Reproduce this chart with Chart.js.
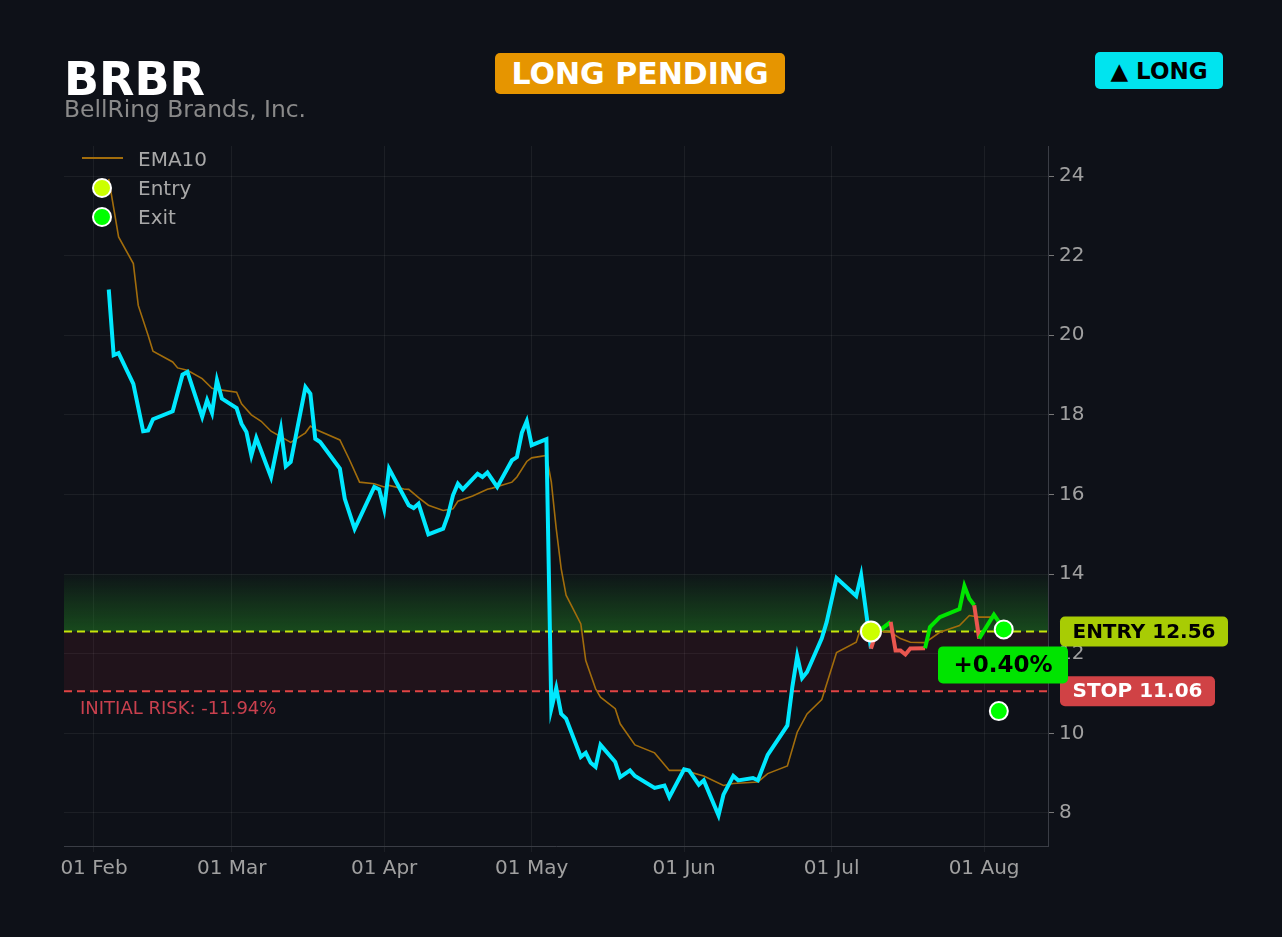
<!DOCTYPE html>
<html><head><meta charset="utf-8">
<script src="https://cdn.jsdelivr.net/npm/chart.js@4.4.1/dist/chart.umd.min.js"></script>
<style>
html,body{margin:0;padding:0;background:#0e1118;width:1282px;height:937px;overflow:hidden;font-family:"DejaVu Sans",sans-serif;}
#wrap{position:relative;width:1282px;height:937px;}
canvas{position:absolute;left:0;top:0;}
.abs{position:absolute;white-space:nowrap;}
.badge{position:absolute;border-radius:5px;font-weight:bold;text-align:center;white-space:nowrap;}
.lg{position:absolute;color:#a8a8a8;font-size:20px;line-height:22px;}
.dot{position:absolute;width:16px;height:16px;border:2px solid #fff;border-radius:50%;}
</style></head><body>
<div id="wrap">
<canvas id="c" width="1282" height="937"></canvas>
<div class="abs" style="left:64px;top:53px;font-size:46px;font-weight:bold;color:#ffffff;line-height:52px;">BRBR</div>
<div class="abs" style="left:64px;top:95px;font-size:23.4px;color:#8a8a8a;line-height:28px;">BellRing Brands, Inc.</div>
<div class="badge" style="left:495px;top:53px;width:290px;height:41px;line-height:41px;background:#e69500;color:#fff;font-size:30px;">LONG PENDING</div>
<div class="badge" style="left:1095px;top:52px;width:128px;height:37px;line-height:38px;background:#00e4ef;color:#000;font-size:23px;">▲ LONG</div>
<div style="position:absolute;left:82px;top:157px;width:41px;height:2px;background:#a26d0c;"></div>
<div class="lg" style="left:138px;top:148px;">EMA10</div>
<div class="dot" style="left:92px;top:178px;background:#ccff00;"></div>
<div class="lg" style="left:138px;top:177px;">Entry</div>
<div class="dot" style="left:92px;top:207px;background:#00ff00;"></div>
<div class="lg" style="left:138px;top:206px;">Exit</div>
</div>
<script>
// ---- data ----
const priceDates = ["02-04","02-05","02-06","02-09","02-11","02-12","02-13","02-17","02-19","02-20","02-23","02-24","02-25","02-26","02-27",
"03-02","03-03","03-04","03-05","03-06","03-09","03-11","03-12","03-13","03-16","03-17","03-18","03-19","03-23","03-24","03-26","03-30","03-31",
"04-01","04-02","04-06","04-07","04-08","04-10","04-13","04-14","04-15","04-16","04-17","04-20","04-21","04-22","04-24","04-27","04-28","04-29","04-30",
"05-01","05-04","05-05","05-06","05-07","05-08","05-11","05-12","05-13","05-14","05-15","05-18","05-19","05-21","05-22","05-26","05-28","05-29",
"06-01","06-02","06-04","06-05","06-08","06-09","06-11","06-12","06-15","06-16","06-18","06-22","06-23","06-24","06-25","06-26","06-29","06-30",
"07-02","07-06","07-07","07-09","07-10","07-13","07-14","07-15","07-16","07-17","07-20","07-21","07-23","07-27","07-28","07-29","07-30","07-31",
"08-03","08-04","08-05"];
const priceValues = [21.15,19.50,19.55,18.78,17.59,17.61,17.89,18.09,19.01,19.08,17.95,18.37,18.05,18.87,18.41,
18.17,17.78,17.57,16.98,17.42,16.44,17.65,16.71,16.82,18.70,18.53,17.40,17.32,16.65,15.89,15.14,16.19,16.13,
15.64,16.65,15.73,15.66,15.77,15.00,15.14,15.48,15.98,16.27,16.13,16.52,16.44,16.55,16.19,16.86,16.94,17.55,17.84,
17.24,17.39,10.62,11.14,10.49,10.37,9.41,9.51,9.26,9.16,9.71,9.28,8.90,9.07,8.93,8.63,8.69,8.40,
9.10,9.07,8.71,8.82,7.94,8.46,8.93,8.82,8.88,8.82,9.46,10.20,11.16,11.94,11.39,11.54,12.39,12.80,
13.90,13.45,13.97,12.13,12.51,12.80,12.08,12.08,11.98,12.13,12.14,12.67,12.92,13.12,13.70,13.38,13.22,12.38,
12.98,12.80,12.61];
const emaDates = ["02-04","02-06","02-09","02-10","02-12","02-13","02-17","02-18","02-20","02-23","02-25","02-26",
"03-02","03-03","03-05","03-07","03-09","03-13","03-16","03-17","03-18","03-23","03-25","03-27","03-30",
"04-01","04-02","04-05","04-06","04-08","04-10","04-13","04-15","04-16","04-19","04-22","04-23","04-27","04-28","04-30",
"05-01","05-04","05-05","05-06","05-07","05-08","05-11","05-12","05-14","05-15","05-18","05-19","05-22","05-26","05-29",
"06-01","06-05","06-09","06-11","06-16","06-18","06-22","06-24","06-26","06-29",
"07-02","07-06","07-07","07-09","07-13","07-15","07-17","07-20","07-23","07-27","07-29","07-31","08-03","08-04"];
const emaValues = [23.93,22.47,21.80,20.75,20.00,19.60,19.33,19.18,19.12,18.91,18.67,18.64,
18.57,18.28,18.00,17.84,17.59,17.31,17.55,17.72,17.64,17.37,16.86,16.31,16.27,
16.19,16.23,16.14,16.13,15.92,15.73,15.60,15.64,15.83,15.96,16.13,16.16,16.31,16.44,16.83,
16.92,16.98,16.31,15.14,14.14,13.47,12.75,11.83,11.12,10.91,10.62,10.24,9.71,9.51,9.07,
9.07,8.93,8.69,8.74,8.78,8.99,9.18,10.03,10.49,10.85,
12.03,12.29,12.67,12.59,12.54,12.38,12.29,12.28,12.54,12.71,12.96,12.92,12.92,12.84];
const entryDates = ["07-09"];
const entryValues = [12.56];
const exitDates = ["08-05","08-04"];
const exitValues = [12.61,10.56];
const tradeStart = "07-09";
const tradeEnd = "08-04";
const entryPrice = 12.56;
const stopPrice = 11.06;
const pnlText = "+0.40%";
const riskText = "INITIAL RISK: -11.94%";
const yTicks = [8,10,12,14,16,18,20,22,24];
const monthTicks = ["02-01","03-01","04-01","05-01","06-01","07-01","08-01"];
const monthLabels = ["01 Feb","01 Mar","01 Apr","01 May","01 Jun","01 Jul","01 Aug"];

// ---- helpers ----
const base = Date.UTC(2025,1,1);
function dayOf(s){const [m,d]=s.split("-").map(Number);return (Date.UTC(2025,m-1,d)-base)/86400000;}
const pts = (ds,vs)=>ds.map((d,i)=>({x:dayOf(d),y:vs[i]}));
const pricePts = pts(priceDates,priceValues);
const emaPts = pts(emaDates,emaValues);
const entryPts = pts(entryDates,entryValues);
const exitPts = pts(exitDates,exitValues);
const tS = dayOf(tradeStart), tE = dayOf(tradeEnd);
const CYAN='#00e8ff', GREEN='#00e600', RED='#e9564f';

const overlay = {
  id:'overlay',
  beforeDatasetsDraw(chart){
    const {ctx,chartArea:a,scales:{y}}=chart;
    ctx.save();
    ctx.beginPath();ctx.rect(a.left,a.top,a.right-a.left,a.bottom-a.top);ctx.clip();
    const y14=y.getPixelForValue(14), yE=y.getPixelForValue(entryPrice), yS=y.getPixelForValue(stopPrice);
    const g=ctx.createLinearGradient(0,y14,0,yE);
    g.addColorStop(0,'rgba(34,130,34,0.04)');
    g.addColorStop(1,'rgba(34,130,34,0.5)');
    ctx.fillStyle=g;ctx.fillRect(a.left,y14,a.right-a.left,yE-y14);
    ctx.fillStyle='rgba(200,40,60,0.10)';ctx.fillRect(a.left,yE,a.right-a.left,yS-yE);
    ctx.lineWidth=2;ctx.setLineDash([8,5]);
    ctx.strokeStyle='#c6e40a';ctx.beginPath();ctx.moveTo(a.left,yE);ctx.lineTo(a.right,yE);ctx.stroke();
    ctx.strokeStyle='#e04444';ctx.beginPath();ctx.moveTo(a.left,yS);ctx.lineTo(a.right,yS);ctx.stroke();
    ctx.setLineDash([]);
    ctx.fillStyle='#c9404e';ctx.font='18px "DejaVu Sans"';ctx.textBaseline='middle';ctx.textAlign='left';
    ctx.fillText(riskText,a.left+16,yS+18);
    ctx.restore();
  },
  afterDraw(chart){
    const {ctx,chartArea:a,scales:{x,y}}=chart;
    const yE=y.getPixelForValue(entryPrice), yS=y.getPixelForValue(stopPrice);
    function box(x0,yc,w,h,bg,fg,txt,font){
      ctx.fillStyle=bg;ctx.beginPath();ctx.roundRect(x0,yc-h/2,w,h,5);ctx.fill();
      ctx.fillStyle=fg;ctx.font=font;ctx.textAlign='center';ctx.textBaseline='middle';
      ctx.fillText(txt,x0+w/2,yc+1);
    }
    ctx.save();
    box(a.right+12,yE,168,30,'#a8cc04','#000','ENTRY '+entryPrice.toFixed(2),'bold 20px "DejaVu Sans"');
    box(a.right+12,yS,155,30,'#d04245','#fff','STOP '+stopPrice.toFixed(2),'bold 20px "DejaVu Sans"');
    box(938,y.getPixelForValue(11.72),130,37,'#00e400','#000',pnlText,'bold 23px "DejaVu Sans"');
    ctx.restore();
  }
};

new Chart(document.getElementById('c'),{
  type:'line',
  data:{datasets:[
    {label:'Exit',data:exitPts,showLine:false,pointRadius:9,pointHoverRadius:9,pointBackgroundColor:'#00ff00',pointBorderColor:'#ffffff',pointBorderWidth:2,order:0},
    {label:'Entry',data:entryPts,showLine:false,pointRadius:10,pointHoverRadius:10,pointBackgroundColor:'#ccff00',pointBorderColor:'#ffffff',pointBorderWidth:2,order:1},
    {label:'Close',data:pricePts,borderColor:CYAN,borderWidth:4,pointRadius:0,tension:0,order:2,
      segment:{borderColor:c=>{
        const p0=pricePts[c.p0DataIndex], p1=pricePts[c.p1DataIndex];
        if(p0.x>=tS && p1.x<=tE) return p1.y>=entryPrice?GREEN:RED;
        return CYAN;}}},
    {label:'EMA10',data:emaPts,borderColor:'#a26d0c',borderWidth:1.6,pointRadius:0,tension:0,order:3}
  ]},
  options:{
    responsive:false,animation:false,devicePixelRatio:1,
    layout:{padding:{left:64,top:146,right:0,bottom:0}},
    plugins:{legend:{display:false},tooltip:{enabled:false}},
    scales:{
      x:{type:'linear',min:-6.1,max:194,
        afterBuildTicks:s=>{s.ticks=monthTicks.map(d=>({value:dayOf(d)}));},
        afterFit:s=>{s.height=91;},
        ticks:{color:'#a0a0a0',font:{family:'DejaVu Sans',size:20},padding:5,maxRotation:0,autoSkip:false,
          callback:(v)=>{const i=monthTicks.findIndex(d=>dayOf(d)===v);return i>=0?monthLabels[i]:'';}},
        grid:{color:'rgba(255,255,255,0.06)',tickLength:6,tickColor:'rgba(255,255,255,0.06)'},
        border:{color:'#3a3d45'}},
      y:{position:'right',min:7.171,max:24.754,
        afterBuildTicks:s=>{s.ticks=yTicks.map(v=>({value:v}));},
        afterFit:s=>{s.width=234;},
        ticks:{color:'#a0a0a0',font:{family:'DejaVu Sans',size:20},padding:5},
        grid:{color:'rgba(255,255,255,0.06)',tickLength:6,tickColor:'#777'},
        border:{color:'#3a3d45'}}
    }
  },
  plugins:[overlay]
});
</script>
</body></html>
